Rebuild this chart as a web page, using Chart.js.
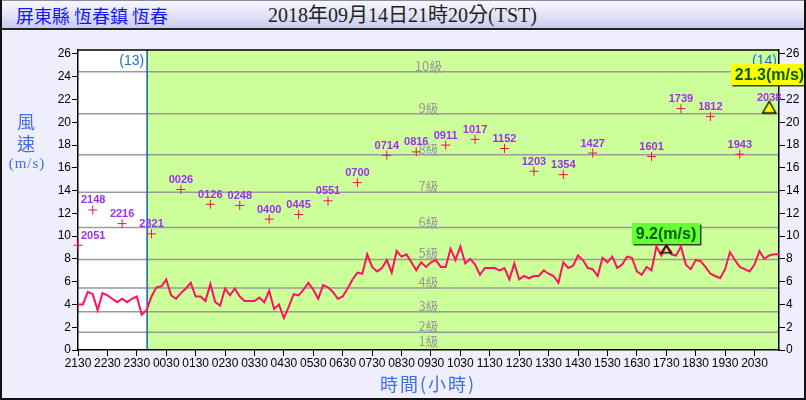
<!DOCTYPE html>
<html lang="zh-Hant">
<head>
<meta charset="utf-8">
<title>屏東縣 恆春鎮 恆春 風速</title>
<script src="https://cdn.jsdelivr.net/npm/chart.js@4.4.1/dist/chart.umd.min.js"></script>
<style>
  html, body { margin: 0; padding: 0; background: #EEEEFC; }
  #page { position: relative; width: 806px; height: 400px; overflow: hidden; background: #EEEEFC; }
  #chart { position: absolute; left: 0; top: 0; }
  #bar {
    position: absolute; left: 0; top: 0; width: 806px; height: 30px; box-sizing: border-box;
    background: linear-gradient(#f7f7ff 0%, #e6e6f8 45%, #cacaee 100%);
    border: 1px solid #8a8a9a; border-bottom: 2px solid #222;
  }
  #station { position: absolute; left: 15px; top: 4px; font: 18px/20px "Noto Sans CJK TC"; color: #1414ff; }
  #stamp { position: absolute; left: 267px; top: 4px; font: 20px/20px "Liberation Serif", "Noto Sans CJK TC"; color: #222; }
  .atitle { position: absolute; color: #4070e8; font-family: "Noto Sans CJK TC"; text-align: center; }
  #frame { position: absolute; left: 0; top: 0; width: 806px; height: 400px; box-sizing: border-box;
           border: 2px solid #111; border-top: 0; pointer-events: none; }
</style>
</head>
<body>
<div id="page">
  <canvas id="chart" width="806" height="400"></canvas>
  <div id="bar">
    <span id="station">屏東縣 恆春鎮 恆春</span>
    <span id="stamp">2018年09月14日21時20分(TST)</span>
  </div>
  <div class="atitle" style="left:6px;top:110px;width:40px;font-size:18px;line-height:22px;">風<br>速</div>
  <div class="atitle" style="left:2px;top:153px;width:50px;font:15px/20px 'Liberation Serif','Noto Sans CJK TC';letter-spacing:1px;">(m/s)</div>
  <div class="atitle" style="left:328px;top:372px;width:200px;font-size:18px;line-height:22px;letter-spacing:2px;">時間(小時)</div>
  <div id="frame"></div>
</div>
<script>
// x axis: minutes after 21:30 on the 13th, one sample every 10 minutes
const xTickLabels = ['2130', '2230', '2330', '0030', '0130', '0230', '0330', '0430', '0530', '0630', '0730', '0830',
                     '0930', '1030', '1130', '1230', '1330', '1430', '1530', '1630', '1730', '1830', '1930', '2030'];
const yTicks = [0, 2, 4, 6, 8, 10, 12, 14, 16, 18, 20, 22, 24, 26];

// 10-minute mean wind speed (m/s), 21:30 .. 21:20
const avgSpeed = [
    4.0, 4.0, 5.1, 4.9, 3.5, 5.0, 4.8, 4.5, 4.2, 4.5,
    4.2, 4.5, 4.7, 3.1, 3.5, 4.7, 5.5, 5.6, 6.2, 4.8,
    4.5, 5.0, 5.4, 5.9, 4.7, 4.7, 4.3, 5.8, 4.2, 3.9,
    5.4, 4.8, 5.4, 4.7, 4.3, 4.3, 4.3, 4.6, 4.2, 5.2,
    3.6, 4.0, 2.8, 3.8, 4.9, 4.8, 5.3, 5.9, 5.3, 4.5,
    5.7, 5.5, 5.1, 4.5, 4.7, 5.4, 6.2, 6.8, 6.7, 8.4,
    7.3, 6.9, 7.2, 7.9, 6.8, 8.7, 8.2, 8.4, 7.7, 7.0,
    7.7, 7.3, 7.7, 7.9, 7.3, 7.3, 8.9, 7.9, 9.1, 7.6,
    8.0, 7.5, 6.6, 7.2, 7.2, 7.2, 7.0, 7.2, 6.2, 7.6,
    6.2, 6.5, 6.3, 6.5, 6.5, 7.0, 6.7, 6.5, 5.9, 7.7,
    7.2, 7.4, 8.3, 7.9, 7.2, 7.1, 6.5, 8.1, 7.7, 8.2,
    7.2, 7.5, 8.2, 8.1, 6.9, 6.6, 7.3, 7.0, 9.1, 8.3,
    9.2, 8.4, 8.3, 9.1, 7.5, 7.1, 7.9, 7.8, 7.3, 6.7,
    6.5, 6.3, 7.1, 8.6, 7.9, 7.3, 7.1, 6.9, 7.5, 8.7,
    8.0, 8.3, 8.4, 8.4
];

// hourly max gust: time of gust and speed, one slot per hour starting 21:00
const gustTimes = ['2051', '2148', '2216', '2321', '0026', '0126', '0248', '0400', '0445', '0551', '0700', '0714',
                   '0816', '0911', '1017', '1152', '1203', '1354', '1427', null, '1601', '1739', '1812', '1943', '2038'];
const gustSpeed = [9.2, 12.3, 11.1, 10.2, 14.1, 12.8, 12.7, 11.5, 11.9, 13.1, 14.7, 17.1,
                   17.4, 18.0, 18.5, 17.7, 15.7, 15.4, 17.3, null, 17.0, 21.2, 20.5, 17.2, 21.3];

// Beaufort bands
const levelFloor = [0.3, 1.55, 3.35, 5.45, 7.95, 10.75, 13.85, 17.15, 20.75, 24.45];
const levelNames = ['1級', '2級', '3級', '4級', '5級', '6級', '7級', '8級', '9級', '10級'];
const dayNames = ['(13)', '(14)'];
const dayBreakMin = 141;

const STEP_MIN = 10;
const Y_MAX = 26.35;

const linePts = avgSpeed.map((v, i) => ({ x: i * STEP_MIN, y: v }));

const gustPts = [];
gustSpeed.forEach((v, k) => {
    if (v != null) gustPts.push({ x: Math.max(0, k * 60 - 30), y: v, t: gustTimes[k] });
});
const gustMax = Math.max(...gustPts.map(p => p.y));
const avgMax = Math.max(...avgSpeed);
const avgMaxIdx = avgSpeed.indexOf(avgMax);

// triangle marker whose apex sits "top" px from the point
function triMark(w, h, top, fill) {
    const c = document.createElement('canvas');
    const half = Math.ceil(Math.max(Math.abs(top), Math.abs(top + h))) + 2;
    c.width = Math.ceil(w) + 4;
    c.height = half * 2;
    const g = c.getContext('2d');
    const cx = c.width / 2, cy = half;
    g.beginPath();
    g.moveTo(cx, cy + top);
    g.lineTo(cx + w / 2, cy + top + h);
    g.lineTo(cx - w / 2, cy + top + h);
    g.closePath();
    if (fill) { g.fillStyle = fill; g.fill(); }
    g.lineWidth = 1.3;
    g.strokeStyle = '#000';
    g.stroke();
    return c;
}
const gustTri = triMark(13.3, 11.6, -6.1, '#FFFF00');
const avgTri = triMark(11, 7.5, 0, null);

function tagBox(ctx, cx, bottom, text, fill) {
    ctx.font = 'bold 16px "Liberation Sans", Arial';
    const w = Math.round(ctx.measureText(text).width + 8), h = 21;
    const x0 = Math.round(cx - w / 2), y0 = Math.round(bottom - h);
    ctx.fillStyle = '#2f4a1c';
    ctx.fillRect(x0 + 1.5, y0 + 1.5, w, h);
    ctx.fillStyle = fill;
    ctx.fillRect(x0, y0, w, h);
    ctx.fillStyle = '#006000';
    ctx.textAlign = 'center';
    ctx.textBaseline = 'middle';
    ctx.fillText(text, x0 + w / 2, y0 + h / 2 + 1);
}

const decor = {
    id: 'decor',
    beforeDraw(chart) {
        const { ctx, chartArea: a, scales: { x, y } } = chart;
        const bx = x.getPixelForValue(dayBreakMin);
        ctx.save();
        ctx.fillStyle = '#FFFFFF';
        ctx.fillRect(a.left, a.top, bx - a.left, a.height);
        ctx.fillStyle = '#CCFF99';
        ctx.fillRect(bx, a.top, a.right - bx, a.height);

        ctx.strokeStyle = '#9a9a9a';
        ctx.lineWidth = 1.5;
        levelFloor.slice(1).forEach(v => {
            const py = y.getPixelForValue(v);
            ctx.beginPath();
            ctx.moveTo(a.left, py);
            ctx.lineTo(a.right, py);
            ctx.stroke();
        });

        ctx.font = '13px "Noto Sans CJK TC"';
        ctx.fillStyle = '#999999';
        ctx.textAlign = 'center';
        ctx.textBaseline = 'middle';
        const lx = (a.left + a.right) / 2;
        levelNames.forEach((n, k) => ctx.fillText(n, lx, y.getPixelForValue(levelFloor[k]) - 6));

        ctx.strokeStyle = '#1560B0';
        ctx.lineWidth = 1.5;
        ctx.beginPath();
        ctx.moveTo(bx, a.top);
        ctx.lineTo(bx, a.bottom);
        ctx.stroke();

        ctx.font = '14px "Liberation Sans", Arial';
        ctx.fillStyle = '#1a6fd0';
        ctx.textAlign = 'right';
        ctx.fillText(dayNames[0], bx - 3, a.top + 11);
        ctx.fillText(dayNames[1], a.right - 2, a.top + 11);
        ctx.restore();
    },
    beforeDatasetsDraw(chart) {
        const { ctx, scales: { x, y } } = chart;
        ctx.save();
        const ax = x.getPixelForValue(avgMaxIdx * STEP_MIN), ay = y.getPixelForValue(avgMax);
        tagBox(ctx, ax, ay - 1, avgMax.toFixed(1) + '(m/s)', '#66FF33');
        const gp = gustPts.find(p => p.y === gustMax);
        tagBox(ctx, x.getPixelForValue(gp.x), y.getPixelForValue(gp.y) - 22, gustMax.toFixed(1) + '(m/s)', '#FFFF00');
        ctx.restore();
    },
    afterDatasetsDraw(chart) {
        const { ctx, chartArea: a } = chart;
        const meta = chart.getDatasetMeta(1);
        ctx.save();
        ctx.font = 'bold 11px "Liberation Sans", Arial';
        ctx.fillStyle = '#9B30F0';
        ctx.textAlign = 'center';
        ctx.textBaseline = 'alphabetic';
        meta.data.forEach((el, i) => {
            const t = gustPts[i].t;
            const half = ctx.measureText(t).width / 2;
            ctx.fillText(t, Math.max(el.x, a.left + half + 3), el.y - 6.5);
        });
        ctx.restore();
    },
    afterDraw(chart) {
        const { ctx, chartArea: a } = chart;
        ctx.save();
        ctx.strokeStyle = '#000';
        ctx.lineWidth = 1.5;
        ctx.beginPath();
        ctx.moveTo(a.left, a.top);
        ctx.lineTo(a.right, a.top);
        ctx.stroke();
        ctx.restore();
    }
};

const tickFont = { family: '"Liberation Sans", Arial', size: 12 };
const axisGrid = { drawOnChartArea: false, drawTicks: true, tickLength: 6, color: '#000', lineWidth: 1 };
const axisBorder = { display: true, color: '#000', width: 1.5 };

function yAxis(position, width, z) {
    return {
        type: 'linear',
        position,
        min: 0,
        max: Y_MAX,
        z,
        afterBuildTicks: s => { s.ticks = yTicks.map(v => ({ value: v })); },
        afterFit: s => { s.width = width; },
        ticks: { color: '#000', font: tickFont, padding: 1, callback: v => v },
        grid: axisGrid,
        border: axisBorder
    };
}

Chart.defaults.font.family = '"Liberation Sans", Arial';

new Chart(document.getElementById('chart'), {
    type: 'line',
    data: {
        datasets: [
            {
                data: linePts,
                borderColor: '#FF1060',
                borderWidth: 2,
                pointRadius: 0,
                tension: 0,
                order: 3
            },
            {
                type: 'scatter',
                data: gustPts,
                showLine: false,
                clip: false,
                pointStyle: gustPts.map(p => p.y === gustMax ? gustTri : 'cross'),
                pointRadius: 4.5,
                pointBorderWidth: 1,
                pointBorderColor: '#EE1050',
                pointBackgroundColor: '#EE1050',
                order: 2
            },
            {
                type: 'scatter',
                data: [{ x: avgMaxIdx * STEP_MIN, y: avgMax }],
                showLine: false,
                pointStyle: avgTri,
                pointRadius: 5,
                order: 1
            }
        ]
    },
    options: {
        responsive: false,
        animation: false,
        devicePixelRatio: 1,
        events: [],
        layout: { padding: { top: 50, left: 0, right: 0, bottom: 0 } },
        plugins: { legend: { display: false }, tooltip: { enabled: false } },
        scales: {
            x: {
                type: 'linear',
                min: 0,
                max: (avgSpeed.length - 1) * STEP_MIN,
                afterBuildTicks: s => { s.ticks = xTickLabels.map((_, i) => ({ value: i * 60 })); },
                afterFit: s => { s.height = 50; },
                ticks: {
                    autoSkip: false,
                    maxRotation: 0,
                    padding: 0,
                    color: '#000',
                    font: tickFont,
                    callback: (v, i) => xTickLabels[i]
                },
                grid: axisGrid,
                border: axisBorder
            },
            y: yAxis('left', 78, 0),
            y2: yAxis('right', 27, 1)
        }
    },
    plugins: [decor]
});
</script>
</body>
</html>
